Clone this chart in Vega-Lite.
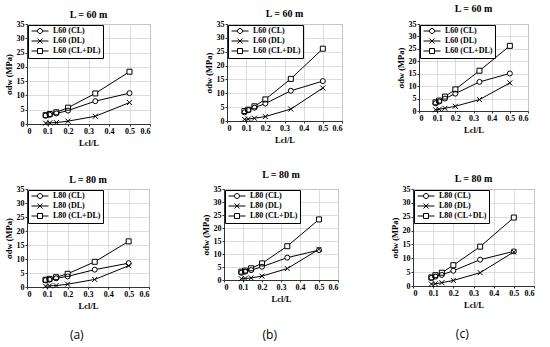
{
  "$schema": "https://vega.github.io/schema/vega-lite/v6.json",
  "padding": {"top": 3, "left": 3, "right": 0, "bottom": 0},
  "background": "white",
  "resolve": {"scale": {"shape": "independent"}, "legend": {"shape": "independent"}},
  "data": {"values": [
    {"p":"ta","s":"L60 (CL)","x":0.091,"y":2.9},{"p":"ta","s":"L60 (CL)","x":0.111,"y":3.2},{"p":"ta","s":"L60 (CL)","x":0.143,"y":3.7},{"p":"ta","s":"L60 (CL)","x":0.2,"y":4.7},{"p":"ta","s":"L60 (CL)","x":0.333,"y":8.0},{"p":"ta","s":"L60 (CL)","x":0.5,"y":10.8},
    {"p":"ta","s":"L60 (DL)","x":0.091,"y":0.3},{"p":"ta","s":"L60 (DL)","x":0.111,"y":0.4},{"p":"ta","s":"L60 (DL)","x":0.143,"y":0.5},{"p":"ta","s":"L60 (DL)","x":0.2,"y":1.0},{"p":"ta","s":"L60 (DL)","x":0.333,"y":2.7},{"p":"ta","s":"L60 (DL)","x":0.5,"y":7.5},
    {"p":"ta","s":"L60 (CL+DL)","x":0.091,"y":3.1},{"p":"ta","s":"L60 (CL+DL)","x":0.111,"y":3.5},{"p":"ta","s":"L60 (CL+DL)","x":0.143,"y":4.1},{"p":"ta","s":"L60 (CL+DL)","x":0.2,"y":5.7},{"p":"ta","s":"L60 (CL+DL)","x":0.333,"y":10.7},{"p":"ta","s":"L60 (CL+DL)","x":0.5,"y":18.3},
    {"p":"tb","s":"L60 (CL)","x":0.091,"y":3.1},{"p":"tb","s":"L60 (CL)","x":0.111,"y":3.9},{"p":"tb","s":"L60 (CL)","x":0.143,"y":4.8},{"p":"tb","s":"L60 (CL)","x":0.2,"y":6.3},{"p":"tb","s":"L60 (CL)","x":0.333,"y":10.9},{"p":"tb","s":"L60 (CL)","x":0.5,"y":14.4},
    {"p":"tb","s":"L60 (DL)","x":0.091,"y":0.6},{"p":"tb","s":"L60 (DL)","x":0.111,"y":0.7},{"p":"tb","s":"L60 (DL)","x":0.143,"y":1.0},{"p":"tb","s":"L60 (DL)","x":0.2,"y":1.6},{"p":"tb","s":"L60 (DL)","x":0.333,"y":4.3},{"p":"tb","s":"L60 (DL)","x":0.5,"y":11.9},
    {"p":"tb","s":"L60 (CL+DL)","x":0.091,"y":3.6},{"p":"tb","s":"L60 (CL+DL)","x":0.111,"y":4.1},{"p":"tb","s":"L60 (CL+DL)","x":0.143,"y":5.3},{"p":"tb","s":"L60 (CL+DL)","x":0.2,"y":7.8},{"p":"tb","s":"L60 (CL+DL)","x":0.333,"y":15.2},{"p":"tb","s":"L60 (CL+DL)","x":0.5,"y":26.1},
    {"p":"tc","s":"L60 (CL)","x":0.091,"y":3.1},{"p":"tc","s":"L60 (CL)","x":0.111,"y":3.8},{"p":"tc","s":"L60 (CL)","x":0.143,"y":5.0},{"p":"tc","s":"L60 (CL)","x":0.2,"y":7.0},{"p":"tc","s":"L60 (CL)","x":0.333,"y":11.7},{"p":"tc","s":"L60 (CL)","x":0.5,"y":15.1},
    {"p":"tc","s":"L60 (DL)","x":0.091,"y":0.5},{"p":"tc","s":"L60 (DL)","x":0.111,"y":0.7},{"p":"tc","s":"L60 (DL)","x":0.143,"y":1.1},{"p":"tc","s":"L60 (DL)","x":0.2,"y":1.9},{"p":"tc","s":"L60 (DL)","x":0.333,"y":4.6},{"p":"tc","s":"L60 (DL)","x":0.5,"y":11.3},
    {"p":"tc","s":"L60 (CL+DL)","x":0.091,"y":3.5},{"p":"tc","s":"L60 (CL+DL)","x":0.111,"y":4.2},{"p":"tc","s":"L60 (CL+DL)","x":0.143,"y":5.8},{"p":"tc","s":"L60 (CL+DL)","x":0.2,"y":8.7},{"p":"tc","s":"L60 (CL+DL)","x":0.333,"y":16.2},{"p":"tc","s":"L60 (CL+DL)","x":0.5,"y":26.2},
    {"p":"ba","s":"L80 (CL)","x":0.091,"y":2.4},{"p":"ba","s":"L80 (CL)","x":0.111,"y":2.6},{"p":"ba","s":"L80 (CL)","x":0.143,"y":3.1},{"p":"ba","s":"L80 (CL)","x":0.2,"y":3.8},{"p":"ba","s":"L80 (CL)","x":0.333,"y":6.2},{"p":"ba","s":"L80 (CL)","x":0.5,"y":8.5},
    {"p":"ba","s":"L80 (DL)","x":0.091,"y":0.3},{"p":"ba","s":"L80 (DL)","x":0.111,"y":0.4},{"p":"ba","s":"L80 (DL)","x":0.143,"y":0.5},{"p":"ba","s":"L80 (DL)","x":0.2,"y":1.0},{"p":"ba","s":"L80 (DL)","x":0.333,"y":2.7},{"p":"ba","s":"L80 (DL)","x":0.5,"y":7.6},
    {"p":"ba","s":"L80 (CL+DL)","x":0.091,"y":2.6},{"p":"ba","s":"L80 (CL+DL)","x":0.111,"y":2.9},{"p":"ba","s":"L80 (CL+DL)","x":0.143,"y":3.5},{"p":"ba","s":"L80 (CL+DL)","x":0.2,"y":4.7},{"p":"ba","s":"L80 (CL+DL)","x":0.333,"y":9.0},{"p":"ba","s":"L80 (CL+DL)","x":0.5,"y":16.3},
    {"p":"bb","s":"L80 (CL)","x":0.091,"y":2.8},{"p":"bb","s":"L80 (CL)","x":0.111,"y":3.2},{"p":"bb","s":"L80 (CL)","x":0.143,"y":3.8},{"p":"bb","s":"L80 (CL)","x":0.2,"y":5.1},{"p":"bb","s":"L80 (CL)","x":0.333,"y":8.6},{"p":"bb","s":"L80 (CL)","x":0.5,"y":11.5},
    {"p":"bb","s":"L80 (DL)","x":0.091,"y":0.5},{"p":"bb","s":"L80 (DL)","x":0.111,"y":0.6},{"p":"bb","s":"L80 (DL)","x":0.143,"y":0.8},{"p":"bb","s":"L80 (DL)","x":0.2,"y":1.5},{"p":"bb","s":"L80 (DL)","x":0.333,"y":4.4},{"p":"bb","s":"L80 (DL)","x":0.5,"y":11.8},
    {"p":"bb","s":"L80 (CL+DL)","x":0.091,"y":3.2},{"p":"bb","s":"L80 (CL+DL)","x":0.111,"y":3.6},{"p":"bb","s":"L80 (CL+DL)","x":0.143,"y":4.5},{"p":"bb","s":"L80 (CL+DL)","x":0.2,"y":6.4},{"p":"bb","s":"L80 (CL+DL)","x":0.333,"y":13.0},{"p":"bb","s":"L80 (CL+DL)","x":0.5,"y":23.3},
    {"p":"bc","s":"L80 (CL)","x":0.091,"y":2.9},{"p":"bc","s":"L80 (CL)","x":0.111,"y":3.4},{"p":"bc","s":"L80 (CL)","x":0.143,"y":4.0},{"p":"bc","s":"L80 (CL)","x":0.2,"y":5.5},{"p":"bc","s":"L80 (CL)","x":0.333,"y":9.5},{"p":"bc","s":"L80 (CL)","x":0.5,"y":12.5},
    {"p":"bc","s":"L80 (DL)","x":0.091,"y":0.7},{"p":"bc","s":"L80 (DL)","x":0.111,"y":0.8},{"p":"bc","s":"L80 (DL)","x":0.143,"y":1.2},{"p":"bc","s":"L80 (DL)","x":0.2,"y":2.0},{"p":"bc","s":"L80 (DL)","x":0.333,"y":4.8},{"p":"bc","s":"L80 (DL)","x":0.5,"y":12.3},
    {"p":"bc","s":"L80 (CL+DL)","x":0.091,"y":3.1},{"p":"bc","s":"L80 (CL+DL)","x":0.111,"y":3.9},{"p":"bc","s":"L80 (CL+DL)","x":0.143,"y":4.8},{"p":"bc","s":"L80 (CL+DL)","x":0.2,"y":7.5},{"p":"bc","s":"L80 (CL+DL)","x":0.333,"y":14.2},{"p":"bc","s":"L80 (CL+DL)","x":0.5,"y":24.7}
  ]},
  "vconcat": [
    {
      "spacing": 52,
      "resolve": {"scale": {"shape": "independent"}, "legend": {"shape": "independent"}},
      "hconcat": [
        {
          "width": 123, "height": 100,
          "title": {"text": "L = 60 m", "offset": 0},
          "transform": [{"filter": "datum.p == 'ta'"}],
          "encoding": {
            "x": {"field": "x", "type": "quantitative", "scale": {"domain": [0, 0.6], "nice": false}, "axis": {"title": "Lcl/L", "values": [0, 0.1, 0.2, 0.3, 0.4, 0.5, 0.6], "format": "~g"}},
            "y": {"field": "y", "type": "quantitative", "scale": {"domain": [0, 35], "nice": false}, "axis": {"title": "σdw (MPa)", "values": [0, 5, 10, 15, 20, 25, 30, 35]}}
          },
          "resolve": {"scale": {"shape": "independent"}, "legend": {"shape": "independent"}},
          "layer": [
            {"mark": {"type": "line", "color": "black", "strokeWidth": 1}, "encoding": {"detail": {"field": "s", "type": "nominal"}}},
            {"mark": {"type": "point", "filled": true, "color": "white", "size": 25, "opacity": 1},
             "encoding": {"shape": {"field": "s", "type": "nominal", "scale": {"domain": ["L60 (CL)", "L60 (DL)", "L60 (CL+DL)"], "range": ["circle", "M-1,-1L1,1M-1,1L1,-1", "square"]}, "legend": null}}},
            {"mark": {"type": "point", "filled": false, "color": "black", "strokeWidth": 1, "size": 25, "opacity": 1},
             "encoding": {"shape": {"field": "s", "type": "nominal", "scale": {"domain": ["L60 (CL)", "L60 (DL)", "L60 (CL+DL)"], "range": ["circle", "M-1,-1L1,1M-1,1L1,-1", "square"]}, "legend": null}}},
            {"mark": {"type": "point", "filled": false, "color": "black", "strokeWidth": 1, "size": 25, "opacity": 0},
             "encoding": {"shape": {"field": "s", "type": "nominal", "scale": {"domain": ["L60 (CL)", "L60 (DL)", "L60 (CL+DL)"], "range": ["M-3.4,0H-1M1,0H3.4M-1,0A1,1 0 1,0 1,0A1,1 0 1,0 -1,0Z", "M-3.4,0H3.4M-1,-1L1,1M-1,1L1,-1", "M-3.4,0H-1M1,0H3.4M-1,-1H1V1H-1Z"]}, "legend": {"title": null, "symbolOpacity": 1}}}}
          ]
        },
        {
          "width": 115, "height": 97,
          "title": {"text": "L = 60 m", "offset": 1},
          "transform": [{"filter": "datum.p == 'tb'"}],
          "encoding": {
            "x": {"field": "x", "type": "quantitative", "scale": {"domain": [0, 0.6], "nice": false}, "axis": {"title": "Lcl/L", "values": [0, 0.1, 0.2, 0.3, 0.4, 0.5, 0.6], "format": "~g"}},
            "y": {"field": "y", "type": "quantitative", "scale": {"domain": [0, 35], "nice": false}, "axis": {"title": "σdw (MPa)", "values": [0, 5, 10, 15, 20, 25, 30, 35]}}
          },
          "resolve": {"scale": {"shape": "independent"}, "legend": {"shape": "independent"}},
          "layer": [
            {"mark": {"type": "line", "color": "black", "strokeWidth": 1}, "encoding": {"detail": {"field": "s", "type": "nominal"}}},
            {"mark": {"type": "point", "filled": true, "color": "white", "size": 25, "opacity": 1},
             "encoding": {"shape": {"field": "s", "type": "nominal", "scale": {"domain": ["L60 (CL)", "L60 (DL)", "L60 (CL+DL)"], "range": ["circle", "M-1,-1L1,1M-1,1L1,-1", "square"]}, "legend": null}}},
            {"mark": {"type": "point", "filled": false, "color": "black", "strokeWidth": 1, "size": 25, "opacity": 1},
             "encoding": {"shape": {"field": "s", "type": "nominal", "scale": {"domain": ["L60 (CL)", "L60 (DL)", "L60 (CL+DL)"], "range": ["circle", "M-1,-1L1,1M-1,1L1,-1", "square"]}, "legend": null}}},
            {"mark": {"type": "point", "filled": false, "color": "black", "strokeWidth": 1, "size": 25, "opacity": 0},
             "encoding": {"shape": {"field": "s", "type": "nominal", "scale": {"domain": ["L60 (CL)", "L60 (DL)", "L60 (CL+DL)"], "range": ["M-3.4,0H-1M1,0H3.4M-1,0A1,1 0 1,0 1,0A1,1 0 1,0 -1,0Z", "M-3.4,0H3.4M-1,-1L1,1M-1,1L1,-1", "M-3.4,0H-1M1,0H3.4M-1,-1H1V1H-1Z"]}, "legend": {"title": null, "symbolOpacity": 1}}}}
          ]
        },
        {
          "width": 109, "height": 87,
          "title": {"text": "L = 60 m", "offset": 6},
          "transform": [{"filter": "datum.p == 'tc'"}],
          "encoding": {
            "x": {"field": "x", "type": "quantitative", "scale": {"domain": [0, 0.6], "nice": false}, "axis": {"title": "Lcl/L", "values": [0, 0.1, 0.2, 0.3, 0.4, 0.5, 0.6], "format": "~g"}},
            "y": {"field": "y", "type": "quantitative", "scale": {"domain": [0, 35], "nice": false}, "axis": {"title": "σdw (MPa)", "values": [0, 5, 10, 15, 20, 25, 30, 35]}}
          },
          "resolve": {"scale": {"shape": "independent"}, "legend": {"shape": "independent"}},
          "layer": [
            {"mark": {"type": "line", "color": "black", "strokeWidth": 1}, "encoding": {"detail": {"field": "s", "type": "nominal"}}},
            {"mark": {"type": "point", "filled": true, "color": "white", "size": 25, "opacity": 1},
             "encoding": {"shape": {"field": "s", "type": "nominal", "scale": {"domain": ["L60 (CL)", "L60 (DL)", "L60 (CL+DL)"], "range": ["circle", "M-1,-1L1,1M-1,1L1,-1", "square"]}, "legend": null}}},
            {"mark": {"type": "point", "filled": false, "color": "black", "strokeWidth": 1, "size": 25, "opacity": 1},
             "encoding": {"shape": {"field": "s", "type": "nominal", "scale": {"domain": ["L60 (CL)", "L60 (DL)", "L60 (CL+DL)"], "range": ["circle", "M-1,-1L1,1M-1,1L1,-1", "square"]}, "legend": null}}},
            {"mark": {"type": "point", "filled": false, "color": "black", "strokeWidth": 1, "size": 25, "opacity": 0},
             "encoding": {"shape": {"field": "s", "type": "nominal", "scale": {"domain": ["L60 (CL)", "L60 (DL)", "L60 (CL+DL)"], "range": ["M-3.4,0H-1M1,0H3.4M-1,0A1,1 0 1,0 1,0A1,1 0 1,0 -1,0Z", "M-3.4,0H3.4M-1,-1L1,1M-1,1L1,-1", "M-3.4,0H-1M1,0H3.4M-1,-1H1V1H-1Z"]}, "legend": {"title": null, "symbolOpacity": 1}}}}
          ]
        }
      ]
    },
    {
      "spacing": 50,
      "resolve": {"scale": {"shape": "independent"}, "legend": {"shape": "independent"}},
      "hconcat": [
        {
          "title": {"text": "(a)", "orient": "bottom", "anchor": "middle", "font": "Open Sans", "fontWeight": "normal", "fontSize": 12, "offset": 20},
          "resolve": {"scale": {"shape": "independent"}, "legend": {"shape": "independent"}},
          "vconcat": [{
            "width": 122, "height": 98,
            "title": {"text": "L = 80 m", "offset": 0},
            "transform": [{"filter": "datum.p == 'ba'"}],
            "encoding": {
              "x": {"field": "x", "type": "quantitative", "scale": {"domain": [0, 0.6], "nice": false}, "axis": {"title": "Lcl/L", "values": [0, 0.1, 0.2, 0.3, 0.4, 0.5, 0.6], "format": "~g"}},
              "y": {"field": "y", "type": "quantitative", "scale": {"domain": [0, 35], "nice": false}, "axis": {"title": "σdw (MPa)", "values": [0, 5, 10, 15, 20, 25, 30, 35]}}
            },
            "resolve": {"scale": {"shape": "independent"}, "legend": {"shape": "independent"}},
            "layer": [
              {"mark": {"type": "line", "color": "black", "strokeWidth": 1}, "encoding": {"detail": {"field": "s", "type": "nominal"}}},
              {"mark": {"type": "point", "filled": true, "color": "white", "size": 25, "opacity": 1},
               "encoding": {"shape": {"field": "s", "type": "nominal", "scale": {"domain": ["L80 (CL)", "L80 (DL)", "L80 (CL+DL)"], "range": ["circle", "M-1,-1L1,1M-1,1L1,-1", "square"]}, "legend": null}}},
              {"mark": {"type": "point", "filled": false, "color": "black", "strokeWidth": 1, "size": 25, "opacity": 1},
               "encoding": {"shape": {"field": "s", "type": "nominal", "scale": {"domain": ["L80 (CL)", "L80 (DL)", "L80 (CL+DL)"], "range": ["circle", "M-1,-1L1,1M-1,1L1,-1", "square"]}, "legend": null}}},
              {"mark": {"type": "point", "filled": false, "color": "black", "strokeWidth": 1, "size": 25, "opacity": 0},
               "encoding": {"shape": {"field": "s", "type": "nominal", "scale": {"domain": ["L80 (CL)", "L80 (DL)", "L80 (CL+DL)"], "range": ["M-3.4,0H-1M1,0H3.4M-1,0A1,1 0 1,0 1,0A1,1 0 1,0 -1,0Z", "M-3.4,0H3.4M-1,-1L1,1M-1,1L1,-1", "M-3.4,0H-1M1,0H3.4M-1,-1H1V1H-1Z"]}, "legend": {"title": null, "symbolOpacity": 1}}}}
            ]
          }]
        },
        {
          "title": {"text": "(b)", "orient": "bottom", "anchor": "middle", "font": "Open Sans", "fontWeight": "normal", "fontSize": 12, "offset": 27},
          "resolve": {"scale": {"shape": "independent"}, "legend": {"shape": "independent"}},
          "vconcat": [{
            "width": 114, "height": 91,
            "title": {"text": "L = 80 m", "offset": 5},
            "transform": [{"filter": "datum.p == 'bb'"}],
            "encoding": {
              "x": {"field": "x", "type": "quantitative", "scale": {"domain": [0, 0.6], "nice": false}, "axis": {"title": "Lcl/L", "values": [0, 0.1, 0.2, 0.3, 0.4, 0.5, 0.6], "format": "~g"}},
              "y": {"field": "y", "type": "quantitative", "scale": {"domain": [0, 35], "nice": false}, "axis": {"title": "σdw (MPa)", "values": [0, 5, 10, 15, 20, 25, 30, 35]}}
            },
            "resolve": {"scale": {"shape": "independent"}, "legend": {"shape": "independent"}},
            "layer": [
              {"mark": {"type": "line", "color": "black", "strokeWidth": 1}, "encoding": {"detail": {"field": "s", "type": "nominal"}}},
              {"mark": {"type": "point", "filled": true, "color": "white", "size": 25, "opacity": 1},
               "encoding": {"shape": {"field": "s", "type": "nominal", "scale": {"domain": ["L80 (CL)", "L80 (DL)", "L80 (CL+DL)"], "range": ["circle", "M-1,-1L1,1M-1,1L1,-1", "square"]}, "legend": null}}},
              {"mark": {"type": "point", "filled": false, "color": "black", "strokeWidth": 1, "size": 25, "opacity": 1},
               "encoding": {"shape": {"field": "s", "type": "nominal", "scale": {"domain": ["L80 (CL)", "L80 (DL)", "L80 (CL+DL)"], "range": ["circle", "M-1,-1L1,1M-1,1L1,-1", "square"]}, "legend": null}}},
              {"mark": {"type": "point", "filled": false, "color": "black", "strokeWidth": 1, "size": 25, "opacity": 0},
               "encoding": {"shape": {"field": "s", "type": "nominal", "scale": {"domain": ["L80 (CL)", "L80 (DL)", "L80 (CL+DL)"], "range": ["M-3.4,0H-1M1,0H3.4M-1,0A1,1 0 1,0 1,0A1,1 0 1,0 -1,0Z", "M-3.4,0H3.4M-1,-1L1,1M-1,1L1,-1", "M-3.4,0H-1M1,0H3.4M-1,-1H1V1H-1Z"]}, "legend": {"title": null, "symbolOpacity": 1}}}}
            ]
          }]
        },
        {
          "title": {"text": "(c)", "orient": "bottom", "anchor": "middle", "font": "Open Sans", "fontWeight": "normal", "fontSize": 12, "offset": 20},
          "resolve": {"scale": {"shape": "independent"}, "legend": {"shape": "independent"}},
          "vconcat": [{
            "width": 121, "height": 97,
            "title": {"text": "L = 80 m", "offset": 1},
            "transform": [{"filter": "datum.p == 'bc'"}],
            "encoding": {
              "x": {"field": "x", "type": "quantitative", "scale": {"domain": [0, 0.6], "nice": false}, "axis": {"title": "Lcl/L", "values": [0, 0.1, 0.2, 0.3, 0.4, 0.5, 0.6], "format": "~g"}},
              "y": {"field": "y", "type": "quantitative", "scale": {"domain": [0, 35], "nice": false}, "axis": {"title": "σdw (MPa)", "values": [0, 5, 10, 15, 20, 25, 30, 35]}}
            },
            "resolve": {"scale": {"shape": "independent"}, "legend": {"shape": "independent"}},
            "layer": [
              {"mark": {"type": "line", "color": "black", "strokeWidth": 1}, "encoding": {"detail": {"field": "s", "type": "nominal"}}},
              {"mark": {"type": "point", "filled": true, "color": "white", "size": 25, "opacity": 1},
               "encoding": {"shape": {"field": "s", "type": "nominal", "scale": {"domain": ["L80 (CL)", "L80 (DL)", "L80 (CL+DL)"], "range": ["circle", "M-1,-1L1,1M-1,1L1,-1", "square"]}, "legend": null}}},
              {"mark": {"type": "point", "filled": false, "color": "black", "strokeWidth": 1, "size": 25, "opacity": 1},
               "encoding": {"shape": {"field": "s", "type": "nominal", "scale": {"domain": ["L80 (CL)", "L80 (DL)", "L80 (CL+DL)"], "range": ["circle", "M-1,-1L1,1M-1,1L1,-1", "square"]}, "legend": null}}},
              {"mark": {"type": "point", "filled": false, "color": "black", "strokeWidth": 1, "size": 25, "opacity": 0},
               "encoding": {"shape": {"field": "s", "type": "nominal", "scale": {"domain": ["L80 (CL)", "L80 (DL)", "L80 (CL+DL)"], "range": ["M-3.4,0H-1M1,0H3.4M-1,0A1,1 0 1,0 1,0A1,1 0 1,0 -1,0Z", "M-3.4,0H3.4M-1,-1L1,1M-1,1L1,-1", "M-3.4,0H-1M1,0H3.4M-1,-1H1V1H-1Z"]}, "legend": {"title": null, "symbolOpacity": 1}}}}
            ]
          }]
        }
      ]
    }
  ],
  "spacing": 22,
  "config": {
    "font": "Liberation Serif",
    "view": {"stroke": "#888888"},
    "title": {"font": "Liberation Serif", "fontWeight": "bold", "fontSize": 10, "color": "black"},
    "axis": {
      "labelFont": "Liberation Serif", "labelFontWeight": "bold", "labelFontSize": 8, "labelColor": "black",
      "titleFont": "Liberation Serif", "titleFontWeight": "bold", "titleFontSize": 8.5, "titleColor": "black",
      "gridColor": "#d4d4d4", "gridWidth": 0.8, "domainColor": "#333333", "tickColor": "#333333", "tickSize": 2,
      "labelPadding": 1, "titlePadding": 3, "labelOverlap": false
    },
    "legend": {
      "orient": "top-left", "offset": 1, "padding": 2, "strokeColor": "black", "fillColor": "white",
      "labelFont": "Liberation Serif", "labelFontWeight": "bold", "labelFontSize": 8, "labelColor": "black",
      "symbolSize": 25, "rowPadding": 0, "symbolOffset": 6, "labelOffset": 9, "symbolStrokeWidth": 1
    }
  }
}
